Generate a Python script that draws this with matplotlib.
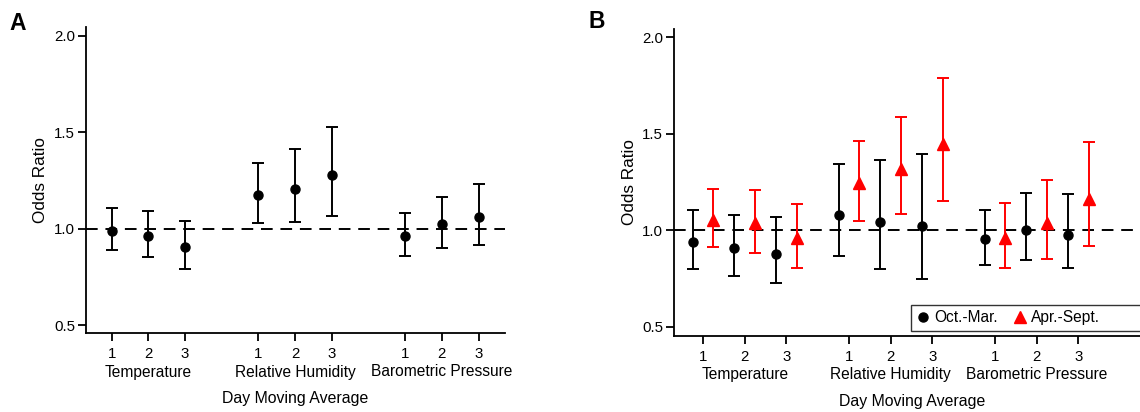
import numpy as np
import matplotlib.pyplot as plt
from matplotlib.lines import Line2D

plt.rcParams['font.family'] = ['Liberation Sans', 'DejaVu Sans']

groups = ['Temperature', 'Relative Humidity', 'Barometric Pressure']
days = ['1', '2', '3']

# panel A: all months
a_or = [0.99, 0.964, 0.905, 1.174, 1.207, 1.276, 0.964, 1.026, 1.062]
a_lo = [0.888, 0.853, 0.791, 1.029, 1.033, 1.065, 0.860, 0.902, 0.917]
a_hi = [1.109, 1.091, 1.041, 1.342, 1.411, 1.528, 1.081, 1.167, 1.233]

# panel B: Oct.-Mar.
b1_or = [0.938, 0.910, 0.879, 1.079, 1.043, 1.021, 0.955, 1.000, 0.977]
b1_lo = [0.801, 0.763, 0.727, 0.865, 0.798, 0.746, 0.822, 0.843, 0.805]
b1_hi = [1.102, 1.081, 1.067, 1.345, 1.363, 1.394, 1.107, 1.192, 1.188]

# panel B: Apr.-Sept.
b2_or = [1.055, 1.036, 0.959, 1.245, 1.316, 1.444, 0.960, 1.036, 1.164]
b2_lo = [0.913, 0.882, 0.803, 1.048, 1.083, 1.153, 0.805, 0.848, 0.920]
b2_hi = [1.212, 1.209, 1.138, 1.463, 1.587, 1.791, 1.141, 1.261, 1.459]

W, H = 1140, 412
fig = plt.figure(figsize=(W / 100, H / 100), dpi=100, facecolor='white')


def err(v, lo, hi):
    v, lo, hi = np.array(v), np.array(lo), np.array(hi)
    return v, np.vstack([v - lo, hi - v])


def style(ax, pos, xlim, ylim):
    ax.set_xlim(*xlim)
    ax.set_ylim(*ylim)
    for s in ['top', 'right']:
        ax.spines[s].set_visible(False)
    for s in ['left', 'bottom']:
        ax.spines[s].set_linewidth(1.3)
    ax.set_xticks(pos)
    ax.set_xticklabels(days * 3)
    ax.set_yticks([0.5, 1.0, 1.5, 2.0])
    ax.set_yticklabels(['0.5', '1.0', '1.5', '2.0'])
    ax.tick_params(axis='both', direction='out', length=6, width=1.3,
                   labelsize=10.8, color='black')
    ax.tick_params(axis='x', pad=4)
    ax.tick_params(axis='y', pad=2)
    ax.axhline(1.0, color='black', lw=1.4, ls=(0, (6, 4)), zorder=1)
    ax.set_ylabel('Odds Ratio', fontsize=12.3, labelpad=4)
    for i, g in enumerate(groups):
        xc = np.mean(pos[3 * i:3 * i + 3])
        ax.annotate(g, xy=(xc, 0), xycoords=('data', 'axes fraction'),
                    xytext=(0, -39), textcoords='offset pixels',
                    ha='center', va='center', fontsize=11.2)
    ax.annotate('Day Moving Average', xy=(0.5, 0), xycoords='axes fraction',
                xytext=(0, -66), textcoords='offset pixels',
                ha='center', va='center', fontsize=11.4)


# panel A
axA = fig.add_axes([86 / W, 1 - 333 / H, (505 - 86) / W, (333 - 27) / H])
posA = np.array([1, 2, 3, 5, 6, 7, 9, 10, 11], dtype=float)
v, e = err(a_or, a_lo, a_hi)
axA.errorbar(posA, v, yerr=e, fmt='o', color='black', ms=6.5, lw=1.4,
             capsize=4, capthick=1.4, zorder=3)
style(axA, posA, (0.30, 11.72), (0.46, 2.045))
fig.text(9 / W, 1 - 23 / H, 'A', fontsize=16.5, fontweight='bold', va='center')

# panel B (runs past the right edge of the figure, as in the original)
bw = 1150 - 674.3
bh = 335.7 - 29.3
axB = fig.add_axes([674.3 / W, 1 - 335.7 / H, bw / W, bh / H])
posB = np.array([1, 2, 3, 4.5, 5.5, 6.5, 8, 9, 10])
v, e = err(b1_or, b1_lo, b1_hi)
axB.errorbar(posB - 0.25, v, yerr=e, fmt='o', color='black', ms=6.5, lw=1.4,
             capsize=4, capthick=1.4, zorder=3, label='Oct.-Mar.')
v, e = err(b2_or, b2_lo, b2_hi)
axB.errorbar(posB + 0.25, v, yerr=e, fmt='^', color='#ff0000', ms=8.5, lw=1.4,
             capsize=4, capthick=1.4, zorder=3, label='Apr.-Sept.')
style(axB, posB, (0.31, 0.31 + bw / 41.7), (0.453, 2.041))
h, l = axB.get_legend_handles_labels()
h = [x[0] for x in h]
# two blank entries widen the box so it is clipped by the figure edge
blank = Line2D([], [], ls='none', marker='')
leg = axB.legend(h + [blank, blank], l + ['', ''], loc='lower left', ncol=4,
                 fontsize=11.2, frameon=True, fancybox=False, edgecolor='black',
                 handlelength=0.8, handletextpad=0.35, columnspacing=1.0,
                 borderaxespad=0, borderpad=0.35,
                 bbox_to_anchor=((911 - 674.3) / bw, 5 / bh))
leg.get_frame().set_linewidth(1.0)
fig.text(588 / W, 1 - 22 / H, 'B', fontsize=16.5, fontweight='bold', va='center')

fig.savefig('out.png', dpi=100, facecolor='white')
